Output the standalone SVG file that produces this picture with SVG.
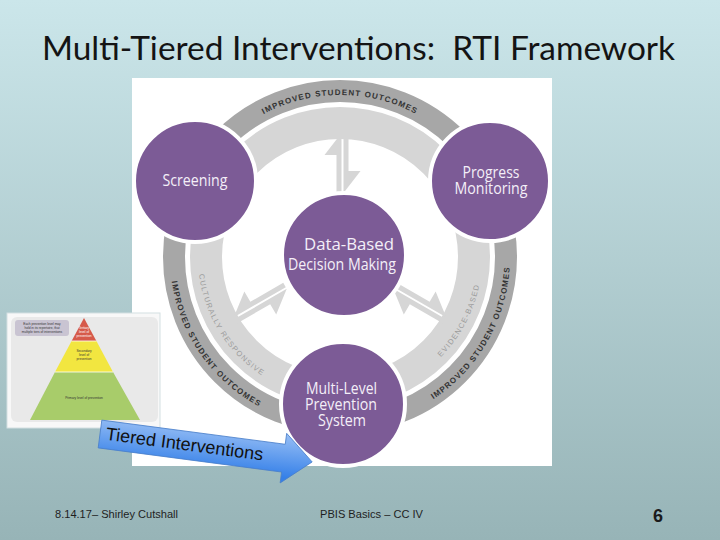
<svg xmlns="http://www.w3.org/2000/svg" width="720" height="540" viewBox="0 0 720 540">
<defs>
  <linearGradient id="bg" x1="0" y1="0" x2="0" y2="1">
    <stop offset="0" stop-color="#cbe6ea"/>
    <stop offset="1" stop-color="#97b4b7"/>
  </linearGradient>
  <linearGradient id="blue" x1="0" y1="0" x2="0.15" y2="1">
    <stop offset="0" stop-color="#a6c8f7"/>
    <stop offset="1" stop-color="#3580e8"/>
  </linearGradient>
  <path id="pTop" d="M247.1,124.3 A162,162 0 0 1 432.9,124.3"/>
  <path id="pLeftOut" d="M170.6,242.2 A170,170 0 0 0 296,421.2"/>
  <path id="pRightOut" d="M398.1,416.8 A170,170 0 0 0 507.4,227.5"/>
  <path id="pLeftIn" d="M200.2,232.3 A142,142 0 0 0 300.9,393.5"/>
  <path id="pRightIn" d="M393.2,388.7 A142,142 0 0 0 478.9,227.5"/>
  <g id="dbl">
    <path d="M0,1 H60 V6 H22 V18 Z"/>
    <path d="M0,-1 V-6 H38 V-18 L60,-1 Z"/>
  </g>
  <style>
    .title{font-family:Lato,"Liberation Sans",sans-serif;font-size:32px;fill:#141414;white-space:pre}
    .foot{font-family:"Liberation Sans",Arial,sans-serif;font-size:11px;fill:#1e1e1e}
    .node circle{fill:#7c5b96;stroke:#ffffff;stroke-width:4}
    .node text{font-family:"Open Sans","Noto Sans",sans-serif;font-size:15.5px;fill:#f4eff8;text-anchor:middle}
    .out{font-family:"Liberation Sans",Arial,sans-serif;font-size:8px;font-weight:bold;fill:#333333;letter-spacing:1.1px}
    .in{font-family:"Liberation Sans",Arial,sans-serif;font-size:7.5px;fill:#9c9c9c;letter-spacing:1.2px}
    .tiny{font-family:"Liberation Sans",Arial,sans-serif;font-size:3.2px;text-anchor:middle}
    .conn use{fill:#d6d6d6}
  </style>
</defs>

<rect x="0" y="0" width="720" height="540" fill="url(#bg)"/>

<text class="title" x="42" y="60" textLength="633" lengthAdjust="spacingAndGlyphs" xml:space="preserve">Multi-Tiered Interventions:  RTI Framework</text>

<!-- main picture background -->
<rect x="132" y="78" width="420" height="388" fill="#ffffff"/>

<!-- pyramid thumbnail -->
<g id="thumbnail">
  <rect x="7" y="313" width="153" height="115" fill="#f8f8f8" stroke="#d4e0e2" stroke-width="1"/>
  <rect x="11" y="317" width="147" height="105" rx="6" fill="#e9e9e9"/>
  <rect x="15" y="320" width="54" height="16" rx="3" fill="#c9c4d2"/>
  <text class="tiny" x="42" y="325" fill="#333">Each prevention level may</text>
  <text class="tiny" x="42" y="329" fill="#333">hold in its repertoire, that</text>
  <text class="tiny" x="42" y="333" fill="#333">multiple tiers of interventions</text>
  <polygon points="84,318 96.4,341 71.6,341" fill="#d65a4a"/>
  <polygon points="71.6,341 96.4,341 113,372 55,372" fill="#f2e640"/>
  <polygon points="55,372 113,372 140,420 30,420" fill="#a8cc6a"/>
  <line x1="71.6" y1="341" x2="96.4" y2="341" stroke="#ffffff" stroke-width="0.8"/>
  <line x1="55" y1="372" x2="113" y2="372" stroke="#ffffff" stroke-width="0.8"/>
  <text class="tiny" x="84" y="329" fill="#ffffff">Tertiary</text>
  <text class="tiny" x="84" y="333" fill="#ffffff">level of</text>
  <text class="tiny" x="84" y="337" fill="#ffffff">prevention</text>
  <text class="tiny" x="84" y="352" fill="#333">Secondary</text>
  <text class="tiny" x="84" y="356" fill="#333">level of</text>
  <text class="tiny" x="84" y="360" fill="#333">prevention</text>
  <text class="tiny" x="84" y="399" fill="#333">Primary level of prevention</text>
</g>

<!-- ring -->
<g id="ring">
  <circle cx="340" cy="257" r="166" fill="none" stroke="#a7a7a7" stroke-width="22"/>
  <circle cx="340" cy="257" r="134" fill="none" stroke="#d6d6d6" stroke-width="32"/>
  <text class="out"><textPath href="#pTop" startOffset="50%" text-anchor="middle">IMPROVED STUDENT OUTCOMES</textPath></text>
  <text class="out"><textPath href="#pLeftOut" startOffset="50%" text-anchor="middle">IMPROVED STUDENT OUTCOMES</textPath></text>
  <text class="out"><textPath href="#pRightOut" startOffset="50%" text-anchor="middle">IMPROVED STUDENT OUTCOMES</textPath></text>
  <text class="in"><textPath href="#pLeftIn" startOffset="50%" text-anchor="middle">CULTURALLY RESPONSIVE</textPath></text>
  <text class="in"><textPath href="#pRightIn" startOffset="50%" text-anchor="middle">EVIDENCE-BASED</textPath></text>
</g>

<!-- connectors: double arrows -->
<g id="connectors" class="conn">
  <use href="#dbl" transform="translate(342.5,133) rotate(90)"/>
  <use href="#dbl" transform="translate(234.3,318) rotate(-30) scale(1,-1)"/>
  <use href="#dbl" transform="translate(445.7,318) rotate(210)"/>
</g>

<g id="screening" class="node">
  <circle cx="195" cy="181" r="61"/>
  <text x="195" y="186" textLength="65" lengthAdjust="spacingAndGlyphs">Screening</text>
</g>
<g id="progress-monitoring" class="node">
  <circle cx="490" cy="181" r="60"/>
  <text x="491" y="177.5" textLength="57" lengthAdjust="spacingAndGlyphs">Progress</text>
  <text x="491" y="193.5" textLength="73" lengthAdjust="spacingAndGlyphs">Monitoring</text>
</g>
<g id="data-based" class="node">
  <circle cx="344" cy="255" r="62"/>
  <text x="349" y="250" style="font-size:17px" textLength="90" lengthAdjust="spacingAndGlyphs">Data-Based</text>
  <text x="342" y="270" style="font-size:17px" textLength="108" lengthAdjust="spacingAndGlyphs">Decision Making</text>
</g>
<g id="multi-level" class="node">
  <circle cx="343" cy="404" r="62"/>
  <text x="341.5" y="393.5" textLength="71" lengthAdjust="spacingAndGlyphs">Multi-Level</text>
  <text x="341" y="409.5" textLength="72" lengthAdjust="spacingAndGlyphs">Prevention</text>
  <text x="342" y="426" textLength="48" lengthAdjust="spacingAndGlyphs">System</text>
</g>

<!-- Tiered Interventions arrow -->
<g id="tiered-arrow" transform="translate(100,434) rotate(7.5)">
  <path d="M0,-14 H185 V-25 L214,0 L185,25 V14 H0 Z" fill="url(#blue)" stroke="#4a7fca" stroke-width="0.8"/>
  <text x="6" y="5" style="font-family:'Liberation Sans',Arial,sans-serif;font-size:18px;fill:#111">Tiered Interventions</text>
</g>

<!-- footer -->
<text class="foot" x="55" y="518" textLength="123" lengthAdjust="spacingAndGlyphs">8.14.17– Shirley Cutshall</text>
<text class="foot" x="320" y="518" textLength="103" lengthAdjust="spacingAndGlyphs">PBIS Basics – CC IV</text>
<text x="658" y="522" style="font-family:'Liberation Sans',Arial,sans-serif;font-size:18px;font-weight:bold;fill:#1a1a1a;text-anchor:middle">6</text>
</svg>
